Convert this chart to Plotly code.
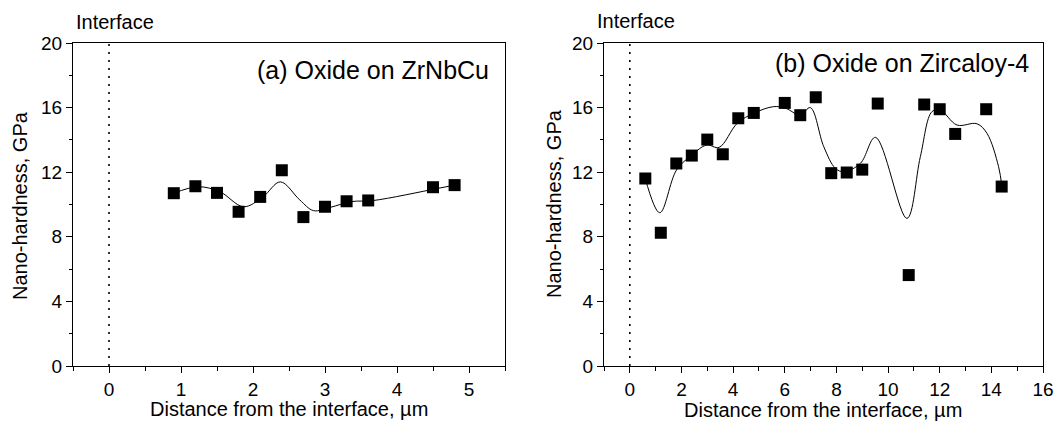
import plotly.graph_objects as go

# ---- Data ----
# (a) Oxide on ZrNbCu
a_x = [0.9, 1.2, 1.5, 1.8, 2.1, 2.4, 2.7, 3.0, 3.3, 3.6, 4.5, 4.8]
a_y = [10.7, 11.13, 10.72, 9.55, 10.47, 12.12, 9.22, 9.86, 10.2, 10.25, 11.07, 11.2]
# smoothed guide curve (a)
a_cx = [0.9, 1.24, 1.54, 1.87, 2.14, 2.38, 2.65, 2.84, 3.07, 3.37, 3.66, 4.57, 4.8]
a_cy = [10.7, 11.1, 10.79, 9.86, 10.48, 11.4, 10.28, 9.62, 9.82, 10.18, 10.24, 11.0, 11.2]

# (b) Oxide on Zircaloy-4
b_x = [0.6, 1.2, 1.8, 2.4, 3.0, 3.6, 4.2, 4.8, 6.0, 6.6, 7.2, 7.8, 8.4, 9.0,
       9.6, 10.8, 11.4, 12.0, 12.6, 13.8, 14.4]
b_y = [11.61, 8.25, 12.54, 13.03, 14.02, 13.11, 15.34, 15.67, 16.29, 15.53, 16.64,
       11.94, 11.98, 12.16, 16.25, 5.63, 16.19, 15.9, 14.37, 15.9, 11.11]
# smoothed guide curve (b)
b_cx = [0.6, 1.16, 1.81, 2.41, 2.97, 3.46, 4.16, 4.8, 5.57, 6.03, 6.6, 6.99,
        7.51, 7.96, 8.29, 8.93, 9.51, 10.73, 11.25, 11.7, 12.02, 12.67, 13.44,
        13.83, 14.28, 14.41]
b_cy = [11.6, 9.49, 12.14, 13.07, 13.68, 13.54, 15.03, 15.65, 16.06, 15.96, 15.54,
        16.0, 13.58, 12.24, 12.03, 12.55, 14.16, 9.14, 12.96, 15.75, 15.85, 14.92,
        15.0, 14.41, 12.34, 11.1]

y_ticks = [0, 4, 8, 12, 16, 20]
a_xticks = [0, 1, 2, 3, 4, 5]
b_xticks = [0, 2, 4, 6, 8, 10, 12, 14, 16]

FONT = "Liberation Sans, Arial, sans-serif"
W, H = 1056, 423

fig = go.Figure()

# interface dotted lines
fig.add_trace(go.Scatter(x=[0, 0], y=[0, 20], mode="lines",
                         line=dict(color="black", width=1.6, dash="2px,6px"),
                         xaxis="x", yaxis="y", hoverinfo="skip"))
fig.add_trace(go.Scatter(x=[0, 0], y=[0, 20], mode="lines",
                         line=dict(color="black", width=1.6, dash="2px,6px"),
                         xaxis="x2", yaxis="y2", hoverinfo="skip"))

# curves
fig.add_trace(go.Scatter(x=a_cx, y=a_cy, mode="lines",
                         line=dict(color="black", width=1, shape="spline", smoothing=1.0),
                         xaxis="x", yaxis="y"))
fig.add_trace(go.Scatter(x=b_cx, y=b_cy, mode="lines",
                         line=dict(color="black", width=1, shape="spline", smoothing=1.0),
                         xaxis="x2", yaxis="y2"))

# markers
fig.add_trace(go.Scatter(x=a_x, y=a_y, mode="markers",
                         marker=dict(symbol="square", size=12, color="black",
                                     line=dict(width=0)),
                         xaxis="x", yaxis="y"))
fig.add_trace(go.Scatter(x=b_x, y=b_y, mode="markers",
                         marker=dict(symbol="square", size=12, color="black",
                                     line=dict(width=0)),
                         xaxis="x2", yaxis="y2"))

def px_x(p):
    return p / W

def px_y(p):
    return 1 - p / H

top, bottom = 43, 366
ydom = [px_y(bottom), px_y(top)]

axis_common = dict(
    showline=True, linecolor="black", linewidth=1, mirror=True,
    ticks="outside", ticklen=6, tickwidth=1, tickcolor="black",
    showgrid=False, zeroline=False,
    tickfont=dict(family=FONT, size=19, color="black"),
    automargin=False,
)

minor_common = dict(ticks="outside", ticklen=3.5, tickwidth=1, tickcolor="black",
                    showgrid=False)

fig.update_layout(
    template="none",
    width=W, height=H,
    margin=dict(l=0, r=0, t=0, b=0),
    paper_bgcolor="white", plot_bgcolor="white",
    showlegend=False,
    xaxis=dict(domain=[px_x(73), px_x(505)], range=[-0.5, 5.5],
               tickvals=a_xticks, anchor="y",
               minor=dict(dtick=0.5, tick0=0, **minor_common),
               **axis_common),
    yaxis=dict(domain=ydom, range=[0, 20], tickvals=y_ticks, anchor="x",
               minor=dict(dtick=2, tick0=0, **minor_common),
               **axis_common),
    xaxis2=dict(domain=[px_x(604), px_x(1043)], range=[-1, 16],
                tickvals=b_xticks, anchor="y2",
                minor=dict(dtick=1, tick0=0, **minor_common),
                **axis_common),
    yaxis2=dict(domain=ydom, range=[0, 20], tickvals=y_ticks, anchor="x2",
                minor=dict(dtick=2, tick0=0, **minor_common),
                **axis_common),
)

def ann(text, x, y, size, xanchor="center", yanchor="middle", angle=0):
    fig.add_annotation(text=text, x=px_x(x), y=px_y(y), xref="paper", yref="paper",
                       showarrow=False, xanchor=xanchor, yanchor=yanchor,
                       textangle=angle,
                       font=dict(family=FONT, size=size, color="black"))

# axis titles
ann("Distance from the interface, \u00b5m", 289, 409, 20)
ann("Distance from the interface, \u00b5m", 823, 410, 20)
ann("Nano-hardness, GPa", 20, 206, 20, angle=-90)
ann("Nano-hardness, GPa", 554, 204, 20, angle=-90)

# interface labels
ann("Interface", 115, 22, 20)
ann("Interface", 636, 21, 20)

# panel labels
ann("(a) Oxide on ZrNbCu", 491, 70, 25, xanchor="right")
ann("(b) Oxide on Zircaloy-4", 1031, 63, 25, xanchor="right")

fig.write_html("out.html")
